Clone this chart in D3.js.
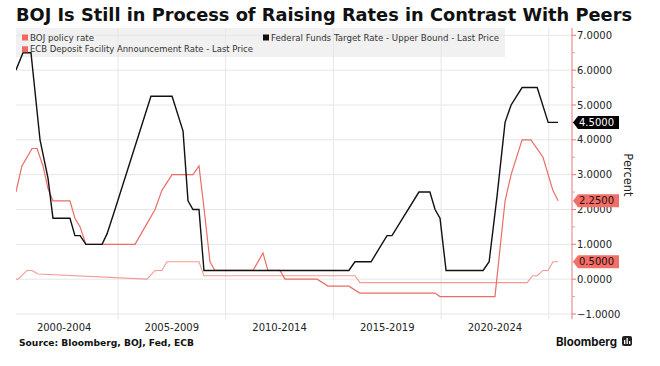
<!DOCTYPE html>
<html><head><meta charset="utf-8">
<script src="https://cdn.jsdelivr.net/npm/d3@7"></script>
<style>html,body{margin:0;padding:0;background:#fff;}svg{display:block;}</style>
</head><body>
<svg id="chart" width="660" height="366"></svg>
<script>
// ---- data (decimal years, percent) ----
const fedDates = [2000.26,2000.59,2000.96,2001.38,2001.75,2001.98,2002.77,2003.00,2003.24,2003.51,2004.26,2004.49,2004.86,2006.53,2007.51,2008.02,2008.25,2008.48,2008.76,2008.99,2015.72,2016.00,2016.75,2017.49,2017.72,2018.97,2019.48,2019.72,2019.95,2020.23,2021.95,2022.23,2022.60,2022.97,2023.25,2023.76,2024.46,2024.97,2025.43];
const fedRates = [6.0,6.5,6.5,4.0,2.9,1.75,1.75,1.25,1.25,1.0,1.0,1.3,2.0,5.25,5.25,4.25,2.25,2.0,2.0,0.25,0.25,0.5,0.5,1.25,1.25,2.5,2.5,2.0,1.75,0.25,0.25,0.5,2.4,4.5,5.0,5.5,5.5,4.5,4.5];

const ecbDates = [2000.26,2000.54,2001.01,2001.24,2001.52,2001.75,2001.98,2002.77,2003.00,2003.24,2003.51,2005.79,2006.35,2006.72,2007.04,2007.51,2008.48,2008.76,2008.99,2009.27,2009.50,2011.27,2011.73,2011.96,2012.52,2012.75,2014.24,2014.75,2015.72,2016.23,2019.72,2019.95,2022.50,2022.97,2023.25,2023.76,2024.17,2024.73,2025.19,2025.43];
const ecbRates = [2.5,3.25,3.75,3.75,3.25,2.6,2.25,2.25,1.75,1.5,1.0,1.0,1.6,2.0,2.55,3.0,3.0,3.25,2.05,0.5,0.25,0.25,0.75,0.25,0.25,0.0,0.0,-0.2,-0.2,-0.4,-0.4,-0.5,-0.5,2.25,3.0,4.0,4.0,3.5,2.55,2.25];

const bojDates = [2000.26,2000.36,2000.78,2001.01,2001.29,2006.35,2006.72,2007.04,2007.27,2008.76,2008.99,2016.00,2016.23,2024.00,2024.24,2024.46,2024.73,2024.97,2025.19,2025.43];
const bojRates = [0.0,0.0,0.25,0.25,0.15,0.0,0.25,0.25,0.5,0.5,0.1,0.1,-0.1,-0.1,0.1,0.1,0.25,0.25,0.5,0.5];

const periodLabels = ["2000-2004","2005-2009","2010-2014","2015-2019","2020-2024"];
const periodStarts = [2000,2005,2010,2015,2020];
const yTicks = [-1,0,1,2,3,4,5,6,7];
const yMinorTicks = [-0.5,0.5,1.5,2.5,3.5,4.5,5.5,6.5];
const legendNames = ["BOJ policy rate","ECB Deposit Facility Announcement Rate - Last Price","Federal Funds Target Rate - Upper Bound - Last Price"];
const lastValues = [{v:4.5, s:"fed"},{v:2.25, s:"ecb"},{v:0.5, s:"boj"}];

// ---- layout ----
const svg = d3.select("#chart");
const plotL = 16, plotR = 572, plotT = 28, plotB = 319;
const x = d3.scaleLinear().domain([2000, 2025]).range([10.3, 548.8]);
const y = d3.scaleLinear().domain([-1, 7]).range([314, 35.3]);
const colors = {fed:"#111111", ecb:"#ea6d66", boj:"#f39a94"};
const FONT = "DejaVu Sans, Verdana, sans-serif";

// clip
svg.append("defs").append("clipPath").attr("id","clip")
  .append("rect").attr("x",plotL).attr("y",plotT).attr("width",plotR-plotL).attr("height",plotB-plotT);

// legend background
svg.append("rect").attr("x",16).attr("y",28).attr("width",489).attr("height",29)
  .attr("fill","#eeeeee").attr("opacity",0.85);

// gridlines
const grid = svg.append("g");
grid.selectAll("line.h").data(yTicks).join("line")
  .attr("x1",plotL).attr("x2",plotR).attr("y1",d=>y(d)).attr("y2",d=>y(d))
  .attr("stroke","#e6e6e6").attr("stroke-width",1);
grid.selectAll("line.v").data(periodStarts.slice(1).concat([2025])).join("line")
  .attr("x1",d=>x(d)).attr("x2",d=>x(d)).attr("y1",plotT).attr("y2",plotB)
  .attr("stroke","#e6e6e6").attr("stroke-width",1);

// lines
const lineGen = d3.line().x(d=>x(d[0])).y(d=>y(d[1]));
const g = svg.append("g").attr("clip-path","url(#clip)");
g.append("path").datum(d3.zip(bojDates,bojRates)).attr("d",lineGen)
  .attr("fill","none").attr("stroke",colors.boj).attr("stroke-width",1.1);
g.append("path").datum(d3.zip(ecbDates,ecbRates)).attr("d",lineGen)
  .attr("fill","none").attr("stroke",colors.ecb).attr("stroke-width",1.2);
g.append("path").datum(d3.zip(fedDates,fedRates)).attr("d",lineGen)
  .attr("fill","none").attr("stroke",colors.fed).attr("stroke-width",1.4);

// legend
const leg = svg.append("g");
const legItems = [
  {name:legendNames[0], c:"#ee6a64", x:22, y:40.5, len:64},
  {name:legendNames[1], c:"#ee6a64", x:22, y:52.3, len:223},
  {name:legendNames[2], c:"#111111", x:263, y:40.5, len:228}
];
legItems.forEach(d=>{
  leg.append("rect").attr("x",d.x).attr("y",d.y-6).attr("width",6).attr("height",6).attr("fill",d.c);
  leg.append("text").attr("x",d.x+8).attr("y",d.y).attr("font-family",FONT).attr("font-size",9.5)
    .attr("fill","#333").attr("textLength",d.len).attr("lengthAdjust","spacingAndGlyphs").text(d.name);
});

// y axis (right)
const ax = svg.append("g");
ax.append("line").attr("x1",plotR).attr("x2",plotR).attr("y1",plotT).attr("y2",plotB)
  .attr("stroke","#e47a7a").attr("stroke-width",1);
ax.selectAll("line.maj").data(yTicks).join("line")
  .attr("x1",plotR).attr("x2",plotR+4).attr("y1",d=>y(d)).attr("y2",d=>y(d))
  .attr("stroke","#e47a7a");
ax.selectAll("line.min").data(yMinorTicks).join("line")
  .attr("x1",plotR).attr("x2",plotR+3).attr("y1",d=>y(d)).attr("y2",d=>y(d))
  .attr("stroke","#e9a0a0");
ax.selectAll("text").data(yTicks).join("text")
  .attr("x",plotR+5).attr("y",d=>y(d)+3.6)
  .attr("font-family",FONT).attr("font-size",10).attr("fill","#222")
  .text(d=>d3.format(".4f")(d));

// last-value labels
const lab = svg.append("g");
lastValues.forEach(d=>{
  const yc = y(d.v), x0 = plotR + 1, w = 46, h = 13;
  const bg = d.s==="fed" ? "#000" : "#f07069";
  lab.append("path")
    .attr("d",`M${x0},${yc} L${x0+5},${yc-h/2} L${x0+w},${yc-h/2} L${x0+w},${yc+h/2} L${x0+5},${yc+h/2} Z`)
    .attr("fill",bg);
  lab.append("text").attr("x",x0+6).attr("y",yc+3.6).attr("font-family",FONT).attr("font-size",10)
    .attr("fill", d.s==="fed" ? "#fff" : "#2a0a0a").text(d3.format(".4f")(d.v));
});

// "Percent" axis title
svg.append("text").attr("transform","translate(624,175) rotate(90)")
  .attr("text-anchor","middle").attr("font-family",FONT).attr("font-size",11.5).attr("fill","#222")
  .text("Percent");

// x labels
svg.selectAll("text.xl").data(periodLabels).join("text")
  .attr("x",(d,i)=>x(periodStarts[i]+2.5)).attr("y",331)
  .attr("text-anchor","middle").attr("font-family",FONT).attr("font-size",10).attr("fill","#222")
  .text(d=>d);

// title
svg.append("text").attr("x",16).attr("y",21).attr("font-family","DejaVu Sans, Verdana, sans-serif")
  .attr("font-weight","bold").attr("font-size",17).attr("fill","#111")
  .attr("textLength",616).attr("lengthAdjust","spacingAndGlyphs")
  .text("BOJ Is Still in Process of Raising Rates in Contrast With Peers");

// source
svg.append("text").attr("x",19).attr("y",345.5).attr("font-family",FONT).attr("font-weight","bold")
  .attr("font-size",8.5).attr("fill","#111").attr("textLength",175).attr("lengthAdjust","spacingAndGlyphs")
  .text("Source: Bloomberg, BOJ, Fed, ECB");

// Bloomberg logo
svg.append("text").attr("x",556).attr("y",346).attr("font-family","Inter, DejaVu Sans, sans-serif").attr("font-weight","bold")
  .attr("font-size",11.5).attr("fill","#111").attr("textLength",61).attr("lengthAdjust","spacingAndGlyphs")
  .text("Bloomberg");
const logo = svg.append("g").attr("transform","translate(622,336)");
logo.append("rect").attr("width",10).attr("height",10).attr("rx",2).attr("fill","#222");
[[2,4,1.3,4],[4.5,2,1.3,6],[7,5,1.3,3]].forEach(b=>
  logo.append("rect").attr("x",b[0]).attr("y",b[1]).attr("width",b[2]).attr("height",b[3]).attr("fill","#fff"));
</script>
</body></html>
